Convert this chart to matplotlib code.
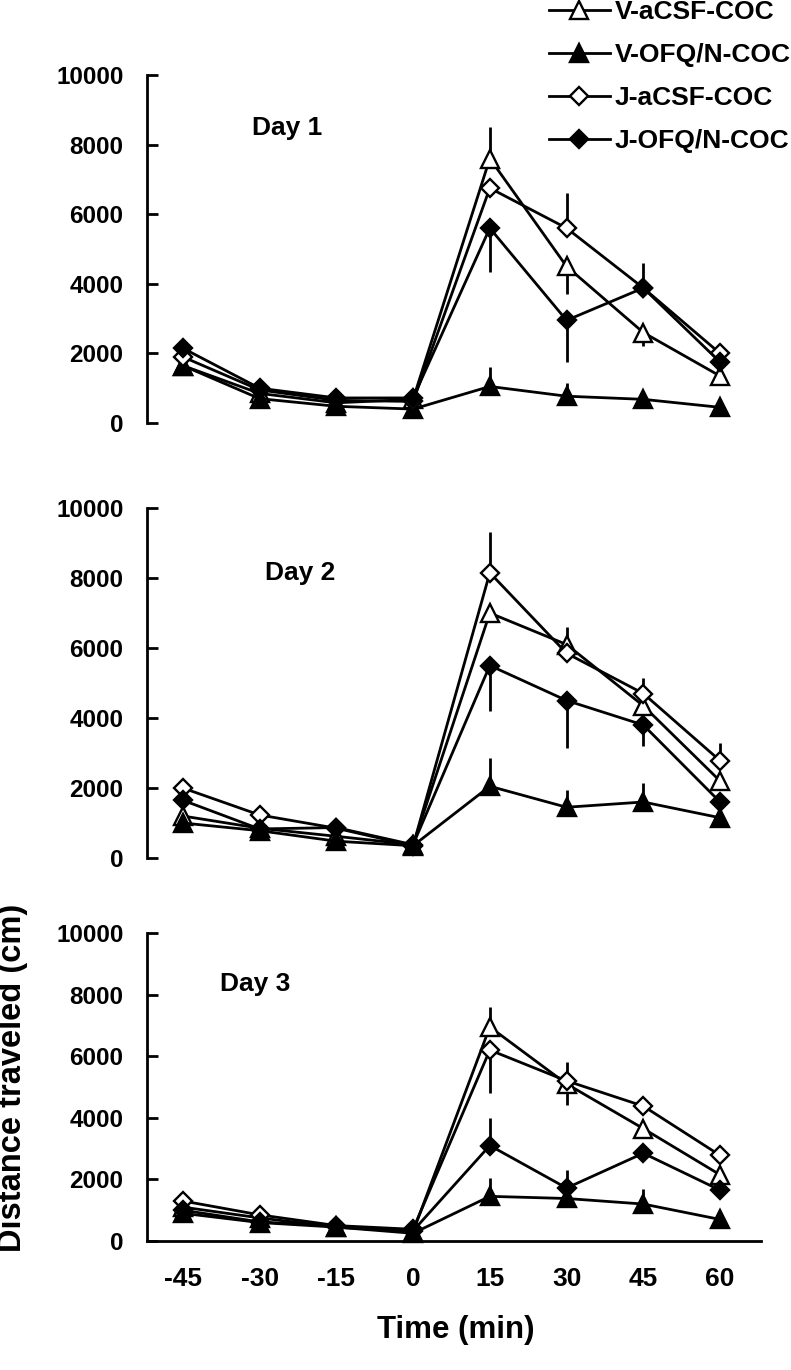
import numpy as np
import matplotlib
matplotlib.use('Agg')
import matplotlib.pyplot as plt
from matplotlib.lines import Line2D

plt.rcParams['font.family'] = ['Liberation Sans', 'DejaVu Sans']
plt.rcParams['font.weight'] = 'bold'

nan = np.nan

# time points (min)
time = [-45, -30, -15, 0, 15, 30, 45, 60]
tick_labels = ['-45', '-30', '-15', '0', '15', '30', '45', '60']

names = ['V-aCSF-COC', 'V-OFQ/N-COC', 'J-aCSF-COC', 'J-OFQ/N-COC']
day_names = ['Day 1', 'Day 2', 'Day 3']

# Day 1
v_acsf_d1 = [1650, 850, 580, 680, 7600, 4500, 2600, 1350]
v_ofq_d1 = [1650, 700, 480, 400, 1050, 770, 680, 450]
j_acsf_d1 = [1900, 950, 650, 620, 6750, 5600, 3880, 2000]
j_ofq_d1 = [2150, 1000, 720, 720, 5600, 2950, 3880, 1750]
# end points of the (one-sided) error bars
v_acsf_d1_err = [nan, nan, nan, nan, 8500, 3700, 2200, nan]
v_ofq_d1_err = [nan, nan, nan, nan, 1600, 1150, nan, nan]
j_acsf_d1_err = [nan, nan, nan, nan, nan, 6600, nan, nan]
j_ofq_d1_err = [nan, nan, nan, nan, 4350, 1750, 4600, nan]

# Day 2
v_acsf_d2 = [1200, 850, 620, 380, 7000, 6100, 4350, 2200]
v_ofq_d2 = [1000, 780, 480, 350, 2050, 1450, 1600, 1150]
j_acsf_d2 = [2000, 1230, 850, 350, 8150, 5850, 4700, 2780]
j_ofq_d2 = [1650, 830, 870, 380, 5500, 4500, 3800, 1600]
v_acsf_d2_err = [nan, nan, nan, nan, nan, 6600, nan, nan]
v_ofq_d2_err = [nan, nan, nan, nan, 2850, 1950, 2150, nan]
j_acsf_d2_err = [nan, nan, nan, nan, 9300, nan, 5150, 3300]
j_ofq_d2_err = [nan, nan, nan, nan, 4200, 3150, 3200, nan]

# Day 3
v_acsf_d3 = [1100, 750, 450, 300, 6950, 5100, 3650, 2150]
v_ofq_d3 = [900, 600, 450, 250, 1450, 1380, 1200, 700]
j_acsf_d3 = [1300, 850, 500, 380, 6200, 5200, 4380, 2780]
j_ofq_d3 = [1000, 620, 480, 330, 3100, 1720, 2850, 1650]
v_acsf_d3_err = [nan, nan, nan, nan, 7600, 4400, nan, nan]
v_ofq_d3_err = [nan, nan, nan, nan, 2050, nan, 1700, nan]
j_acsf_d3_err = [nan, nan, nan, nan, 4800, 5800, nan, nan]
j_ofq_d3_err = [nan, nan, nan, nan, 4000, 2300, nan, nan]

days = [
    ([v_acsf_d1, v_ofq_d1, j_acsf_d1, j_ofq_d1],
     [v_acsf_d1_err, v_ofq_d1_err, j_acsf_d1_err, j_ofq_d1_err]),
    ([v_acsf_d2, v_ofq_d2, j_acsf_d2, j_ofq_d2],
     [v_acsf_d2_err, v_ofq_d2_err, j_acsf_d2_err, j_ofq_d2_err]),
    ([v_acsf_d3, v_ofq_d3, j_acsf_d3, j_ofq_d3],
     [v_acsf_d3_err, v_ofq_d3_err, j_acsf_d3_err, j_ofq_d3_err]),
]

# marker style per series: (marker, face, size)
styles = [('^', 'white', 12.5), ('^', 'black', 12.5), ('D', 'white', 9.5), ('D', 'black', 9.5)]

# label positions of "Day n" in data coords
day_pos = [(-24.6, 8480), (-22.1, 8150), (-30.9, 8340)]

W, H = 791, 1370
fig = plt.figure(figsize=(W / 100, H / 100), dpi=100)

# axes boxes in pixels: (left, top, right, bottom)
boxes = [(147, 75, 761, 423), (147, 508, 761, 858), (147, 933, 761, 1241)]

for i, (box, (series, errs)) in enumerate(zip(boxes, days)):
    l, t, r, b = box
    ax = fig.add_axes([l / W, 1 - b / H, (r - l) / W, (b - t) / H])
    for vals, err in zip(series, errs):
        ax.vlines(time, vals, err, colors='black', lw=2.0, zorder=2, clip_on=False)
    for vals, (mk, fc, ms) in zip(series, styles):
        ax.plot(time, vals, color='black', lw=2.0, marker=mk, ms=ms,
                mfc=fc, mec='black', mew=1.7, zorder=3, clip_on=False)
    ax.set_xlim(-52, 68)
    ax.set_ylim(0, 10000)
    ax.set_yticks([0, 2000, 4000, 6000, 8000, 10000])
    ax.tick_params(axis='y', direction='in', length=8, width=2.0, pad=17, labelsize=17.5)
    for s in ['top', 'right']:
        ax.spines[s].set_visible(False)
    ax.spines['left'].set_linewidth(2.0)
    if i < 2:
        ax.spines['bottom'].set_visible(False)
        ax.set_xticks([])
    else:
        ax.spines['bottom'].set_linewidth(2.0)
        ax.set_xticks(time)
        ax.set_xticklabels(tick_labels)
        ax.tick_params(axis='x', length=0, pad=19, labelsize=19)
    ax.text(day_pos[i][0], day_pos[i][1], day_names[i], fontsize=19,
            fontweight='bold', ha='center', va='center')

fig.text(456 / W, 1 - 1330 / H, 'Time (min)', fontsize=22.5, fontweight='bold',
         ha='center', va='center')
fig.text(13 / W, 1 - 1078 / H, 'Distance traveled (cm)', fontsize=23.5,
         fontweight='bold', ha='center', va='center', rotation=90)

handles = [Line2D([], [], color='black', lw=2.0, marker=mk, ms=ms, mfc=fc,
                  mec='black', mew=1.7) for mk, fc, ms in styles]
fig.legend(handles, names, loc='upper left', bbox_to_anchor=(549 / W, 1.0),
           frameon=False, fontsize=19, handlelength=2.3, handletextpad=0.2,
           labelspacing=0.72, borderpad=0, borderaxespad=0)

fig.savefig('out.png', dpi=100)
